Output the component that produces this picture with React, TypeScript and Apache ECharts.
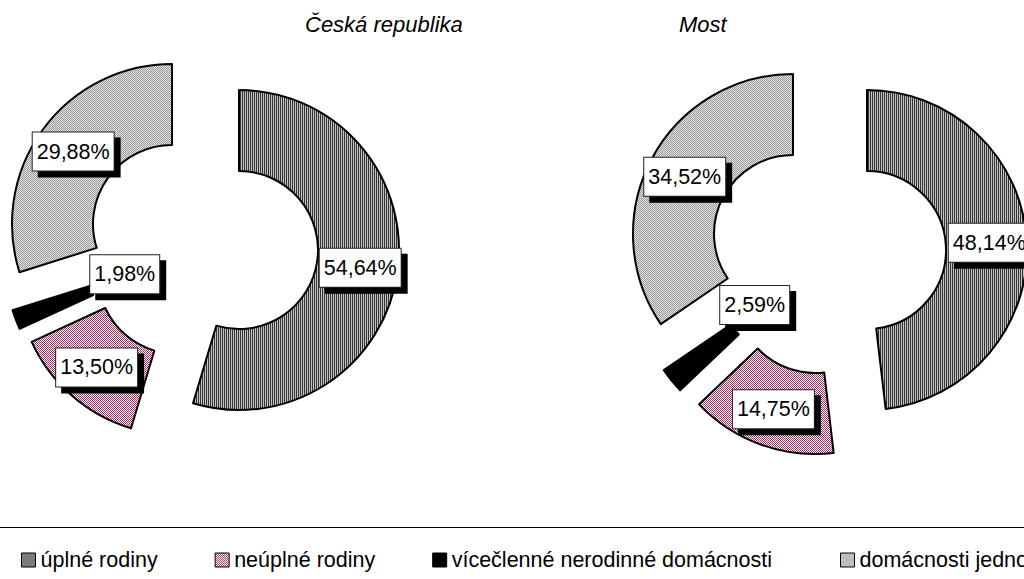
import React, { useEffect, useRef } from 'react';
import * as echarts from 'echarts';

const categories = [
  'úplné rodiny',
  'neúplné rodiny',
  'vícečlenné nerodinné domácnosti',
  'domácnosti jednotlivců',
];
const valuesCR = [54.64, 13.5, 1.98, 29.88];
const valuesMost = [48.14, 14.75, 2.59, 34.52];
const chartTitles = ['Česká republika', 'Most'];

const FONT = '"Liberation Sans", Arial, Helvetica, sans-serif';

// pattern tiles: rows of pixel colours
const tiles: string[][][] = [
  [['#333333', '#c4c4c4']],
  [
    ['#993366', '#ffffff'],
    ['#ffffff', '#993366'],
  ],
  [['#000000']],
  [
    ['#9a9a9a', '#e2e2e2'],
    ['#e2e2e2', '#9a9a9a'],
  ],
];

function makePattern(tile: string[][]): any {
  const h = tile.length;
  const w = tile[0].length;
  if (w === 1 && h === 1) return tile[0][0];
  const c = document.createElement('canvas');
  c.width = w;
  c.height = h;
  const ctx = c.getContext('2d')!;
  for (let y = 0; y < h; y++) {
    for (let x = 0; x < w; x++) {
      ctx.fillStyle = tile[y][x];
      ctx.fillRect(x, y, 1, 1);
    }
  }
  return { image: c, repeat: 'repeat' };
}

const fmt = (v: number) => v.toFixed(2).replace('.', ',') + '%';

const labelStyle = {
  show: true,
  position: 'inside',
  rotate: 0,
  fontFamily: FONT,
  fontSize: 21.5,
  lineHeight: 24,
  color: '#000',
  backgroundColor: '#fff',
  borderColor: '#222',
  borderWidth: 1,
  padding: [7, 4, 7, 4],
  shadowColor: '#000',
  shadowBlur: 0,
  shadowOffsetX: 6,
  shadowOffsetY: 6,
  formatter: (p: any) => fmt(p.value),
};

function sliceSeries(fills: any[], values: number[], idx: number, center: number[], shift?: number[]) {
  return {
    type: 'pie',
    radius: [79, 160],
    center,
    startAngle: 90,
    clockwise: true,
    avoidLabelOverlap: false,
    silent: true,
    labelLine: { show: false },
    labelLayout: shift ? { dx: shift[0], dy: shift[1] } : undefined,
    data: values.map((v, i) => ({
      name: categories[i],
      value: v,
      itemStyle:
        i === idx
          ? { color: fills[i], borderColor: '#000', borderWidth: 2 }
          : { color: 'rgba(0,0,0,0)', borderWidth: 0, borderColor: 'rgba(0,0,0,0)' },
      label: i === idx ? labelStyle : { show: false },
    })),
  };
}

export default function App() {
  const ref = useRef<HTMLDivElement>(null);
  useEffect(() => {
    if (!ref.current) return;
    const chart = echarts.init(ref.current, undefined, { renderer: 'svg' });
    const fills = tiles.map(makePattern);
    const titleStyle = {
      fontFamily: FONT,
      fontSize: 22,
      fontStyle: 'italic',
      fontWeight: 'normal',
      color: '#000',
    };
    const legendItem = (i: number) => ({
      name: categories[i],
      itemStyle: { color: fills[i], borderColor: '#000', borderWidth: 1 },
    });
    const legendBase = {
      top: 549,
      width: 2000,
      padding: 0,
      orient: 'horizontal',
      itemWidth: 14,
      itemHeight: 14,
      itemGap: 57,
      icon: 'rect',
      selectedMode: false,
      textStyle: { fontFamily: FONT, fontSize: 21.5, color: '#000' },
    };
    chart.setOption({
      animation: false,
      backgroundColor: '#fff',
      title: [
        { text: chartTitles[0], left: 305, top: 13, padding: 0, textStyle: titleStyle },
        { text: chartTitles[1], left: 679, top: 13, padding: 0, textStyle: titleStyle },
      ],
      legend: [
        { ...legendBase, left: 21, data: [0, 1, 2].map(legendItem) },
        { ...legendBase, left: 840, data: [3].map(legendItem) },
      ],
      graphic: [
        {
          type: 'line',
          shape: { x1: 0, y1: 527.5, x2: 1024, y2: 527.5 },
          style: { stroke: '#000', lineWidth: 1 },
        },
      ],
      series: [
        sliceSeries(fills, valuesCR, 0, [239, 250]),
        sliceSeries(fills, valuesCR, 1, [177, 275]),
        sliceSeries(fills, valuesCR, 2, [165, 262], [74, -32]),
        sliceSeries(fills, valuesCR, 3, [172, 224]),
        sliceSeries(fills, valuesMost, 0, [867, 250]),
        sliceSeries(fills, valuesMost, 1, [815, 294]),
        sliceSeries(fills, valuesMost, 2, [796, 280], [54, -52]),
        sliceSeries(fills, valuesMost, 3, [793, 234]),
      ],
    });
    return () => chart.dispose();
  }, []);
  return (
    <div
      ref={ref}
      style={{ position: 'absolute', left: 0, top: 0, width: 1024, height: 579, background: '#fff' }}
    />
  );
}
